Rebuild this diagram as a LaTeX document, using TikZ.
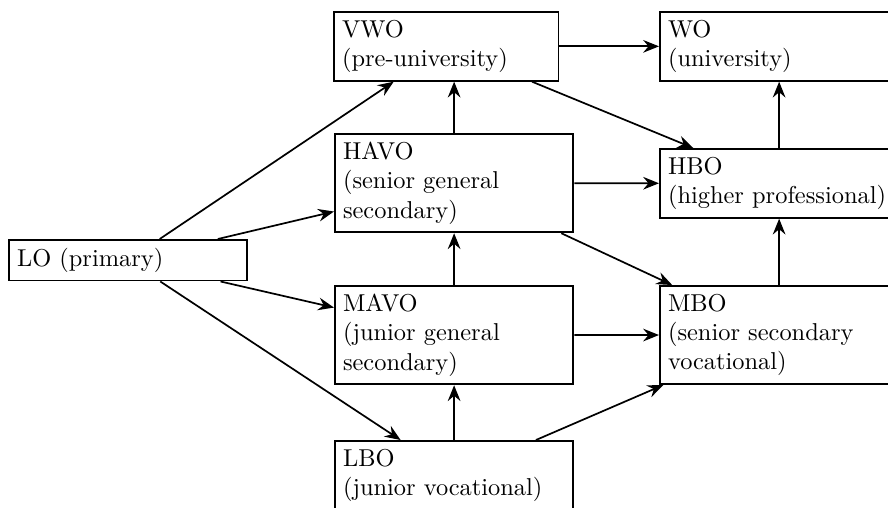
\documentclass[tikz,border=0pt]{standalone}
\usetikzlibrary{arrows.meta}
\hyphenpenalty=10000
\exhyphenpenalty=10000
\begin{document}
\begin{tikzpicture}[x=0.4098pt,y=-0.4098pt,
  box/.style={draw,line width=0.75pt,anchor=north west,align=left,text width=3.2cm,inner sep=3.33pt,
    execute at begin node={\hyphenpenalty=10000}},
  conn/.style={line width=0.7pt,-{Stealth[length=6.5pt,width=5.2pt,inset=2.2pt]}}]
\useasboundingbox (0,0) rectangle (888,507);
\clip (0,0) rectangle (888,507);
\node[box] (lo)   at (8,239)   {LO (primary)};
\node[box,text width=3cm] (vwo) at (333,11) {VWO\\(pre-university)};
\node[box] (wo)   at (659,11)  {WO\\(university)};
\node[box] (havo) at (334,133) {HAVO\\(senior general secondary)};
\node[box] (hbo)  at (659,148) {HBO\\(higher professional)};
\node[box] (mavo) at (334,285) {MAVO\\(junior general secondary)};
\node[box] (mbo)  at (659,285) {MBO\\(senior secondary vocational)};
\node[box] (lbo)  at (334,440) {LBO\\(junior vocational)};
\draw[conn] (lo) -- (vwo);
\draw[conn] (lo) -- (havo);
\draw[conn] (lo) -- (mavo);
\draw[conn] (lo) -- (lbo);
\draw[conn] (vwo) -- (wo);
\draw[conn] (vwo) -- (hbo);
\draw[conn] (havo.north) -- (havo.north |- vwo.south);
\draw[conn] (havo) -- (hbo);
\draw[conn] (havo) -- (mbo);
\draw[conn] (hbo) -- (wo);
\draw[conn] (mavo) -- (havo);
\draw[conn] (mavo) -- (mbo);
\draw[conn] (mbo) -- (hbo);
\draw[conn] (lbo) -- (mavo);
\draw[conn] (lbo) -- (mbo);
\end{tikzpicture}
\end{document}
